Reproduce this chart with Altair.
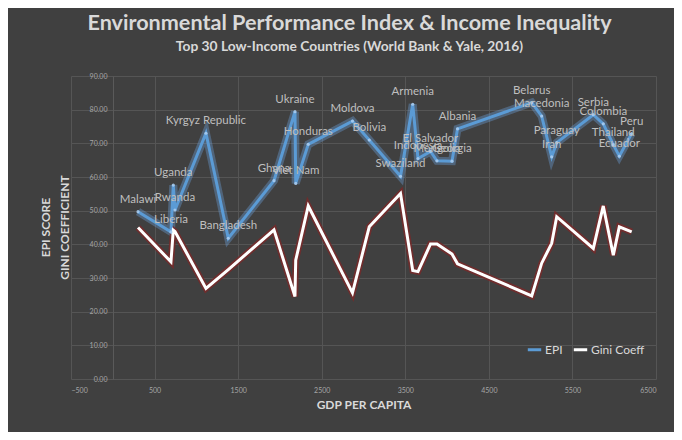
import altair as alt
import pandas as pd

countries = ["Malawi", "Liberia", "Uganda", "Rwanda", "Kyrgyz Republic", "Bangladesh",
             "Ghana", "Ukraine", "Viet Nam", "Honduras", "Moldova", "Bolivia",
             "Swaziland", "Armenia", "Indonesia", "El Salvador", "Mongolia", "Georgia",
             "Albania", "Belarus", "Macedonia", "Iran", "Paraguay", "Serbia",
             "Colombia", "Thailand", "Ecuador", "Peru"]
gdp = [302, 696, 724, 744, 1115, 1382,
       1929, 2180, 2189, 2339, 2868, 3069,
       3443, 3589, 3652, 3802, 3879, 4059,
       4125, 5013, 5132, 5252, 5312, 5750,
       5869, 5989, 6061, 6209]
epi = [49.7, 43.7, 57.6, 50.2, 73.0, 41.8,
       58.9, 79.4, 58.1, 69.7, 76.6, 71.0,
       60.2, 81.6, 65.5, 67.6, 64.8, 64.7,
       74.3, 82.1, 78.1, 66.0, 70.2, 78.5,
       75.8, 69.6, 66.2, 72.9]
gini = [45.0, 34.8, 44.2, 43.8, 26.9, 32.5,
        44.3, 24.5, 35.3, 51.4, 25.6, 45.2,
        55.1, 32.2, 31.9, 40.1, 40.1, 37.1,
        34.2, 24.7, 34.4, 40.3, 48.2, 38.8,
        51.4, 36.8, 45.2, 43.7]

x_ticks = [-500, 500, 1500, 2500, 3500, 4500, 5500, 6500]
y_ticks = [0, 10, 20, 30, 40, 50, 60, 70, 80, 90]
series_names = ["EPI", "Gini Coeff"]

rows = []
for c, g, e, gi in zip(countries, gdp, epi, gini):
    rows.append({"country": c, "gdp": g, "series": series_names[0], "value": e})
    rows.append({"country": c, "gdp": g, "series": series_names[1], "value": gi})
df = pd.DataFrame(rows)

FONT = "Lato"
BG = "#404040"
TXT = "#d9d9d9"

x_enc = alt.X("gdp:Q",
              scale=alt.Scale(domain=[-500, 6500], nice=False, zero=False),
              axis=alt.Axis(values=x_ticks, format="d", title="GDP PER CAPITA",
                            grid=True, gridColor="#555555", gridWidth=1,
                            domain=False, ticks=False, labelFontSize=7,
                            labelColor="#a6a6a6", labelPadding=7, labelFont=FONT,
                            titleFont=FONT, titleFontSize=12, titleFontWeight="bold",
                            titleColor=TXT, titlePadding=6))
y_enc = alt.Y("value:Q",
              scale=alt.Scale(domain=[0, 90], nice=False),
              axis=alt.Axis(values=y_ticks, format=".2f",
                            title=["EPI SCORE", "GINI COEFFICIENT"],
                            grid=True, gridColor="#555555", gridWidth=1,
                            domain=True, domainColor="#5a5a5a", ticks=False,
                            offset=-42, labelFontSize=7, labelColor="#a6a6a6",
                            labelPadding=6, labelFont=FONT,
                            titleFont=FONT, titleFontSize=12, titleFontWeight="bold",
                            titleColor=TXT, titleX=-68, titleY=151, titleLineHeight=19,
                            titleAlign="center", titleBaseline="middle", titleAngle=270))

base = alt.Chart(df)

glow_epi = base.transform_filter(alt.datum.series == "EPI").mark_line(
    strokeWidth=8, opacity=0.35, color="#6fa8e8", strokeJoin="miter").encode(x=x_enc, y=y_enc)
glow_gini = base.transform_filter(alt.datum.series == "Gini Coeff").mark_line(
    strokeWidth=6.5, opacity=0.8, color="#7a2828", strokeJoin="miter").encode(x=x_enc, y=y_enc)

lines = base.mark_line(strokeWidth=3, strokeJoin="miter").encode(
    x=x_enc, y=y_enc,
    color=alt.Color("series:N",
                    scale=alt.Scale(domain=series_names, range=["#5b9bd5", "#ffffff"]),
                    legend=alt.Legend(title=None, orient="none", legendX=455, legendY=265,
                                      direction="horizontal", symbolType="stroke",
                                      symbolStrokeWidth=3, symbolSize=180,
                                      labelColor=TXT, labelFontSize=12, labelFont=FONT,
                                      columnPadding=4, labelOffset=2)))

pts = base.transform_filter(alt.datum.series == "EPI").mark_point(
    filled=True, size=10, color="#a9ccef", opacity=0.9).encode(x=x_enc, y=y_enc)

labels = base.transform_filter(alt.datum.series == "EPI").mark_text(
    dy=-12, fontSize=11.5, font=FONT, color="#bfbfbf", baseline="middle", align="center").encode(
    x=x_enc, y=y_enc, text="country:N")

chart = alt.layer(glow_epi, glow_gini, lines, pts, labels).properties(
    width=585, height=303,
    autosize=alt.AutoSizeParams(type="none"),
    padding={"left": 63, "top": 68, "right": 18, "bottom": 53},
    background=BG,
    title=alt.TitleParams(
        "Environmental Performance Index & Income Inequality",
        subtitle="Top 30 Low-Income Countries (World Bank & Yale, 2016)",
        anchor="middle", frame="group", dx=-14, offset=18,
        font=FONT, fontSize=21.6, fontWeight="bold", color=TXT,
        subtitleFont=FONT, subtitleFontSize=13.8, subtitleFontWeight="bold",
        subtitleColor=TXT, subtitlePadding=6)
).configure_view(stroke=None)

chart.save("out.html", embed_options={"renderer": "svg", "actions": False})
